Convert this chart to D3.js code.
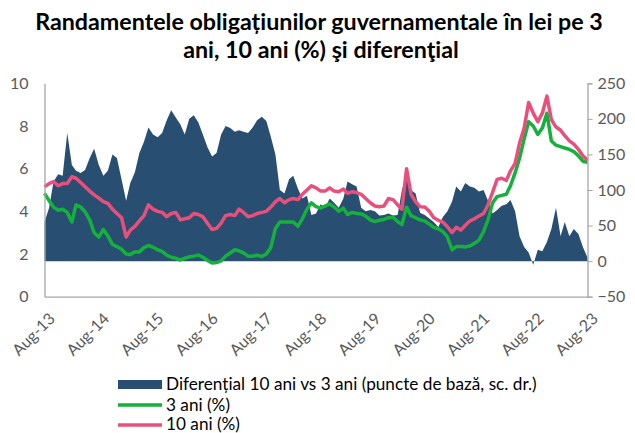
<!DOCTYPE html>
<html><head><meta charset="utf-8">
<script src="https://cdn.jsdelivr.net/npm/d3@7"></script>
<style>body{margin:0;background:#fff}svg{display:block;font-family:Lato,"Open Sans",sans-serif}</style>
</head><body><svg id="c" width="635" height="433"></svg>
<script>
const titleLines = ["Randamentele obligațiunilor guvernamentale în lei pe 3", "ani, 10 ani (%) şi diferenţial"];
const xLabels = ["Aug-13","Aug-14","Aug-15","Aug-16","Aug-17","Aug-18","Aug-19","Aug-20","Aug-21","Aug-22","Aug-23"];
const leftTicks = [0,2,4,6,8,10];
const rightTicks = [-50,0,50,100,150,200,250];
const legendLabels = ["Diferențial 10 ani vs 3 ani (puncte de bază, sc. dr.)", "3 ani (%)", "10 ani (%)"];
// monthly observations, Aug-2013 .. Aug-2023
const yield10 = [5.15,5.3,5.4,5.2,5.3,5.3,5.62,5.55,5.35,5.15,4.95,4.77,4.62,4.45,4.37,4.1,3.9,3.7,2.8,3.12,
3.3,3.55,3.8,4.3,4.1,4.0,3.95,3.75,3.9,3.95,3.6,3.65,3.7,3.9,3.85,3.75,3.44,3.15,3.2,3.45,
3.8,3.85,3.8,4.1,3.95,3.75,3.8,3.9,3.95,4.0,4.2,4.45,4.6,4.4,4.55,4.6,4.55,4.8,5.0,5.2,
5.1,4.95,4.95,5.1,4.95,4.92,5.05,4.84,4.92,4.88,4.8,4.6,4.4,4.25,4.22,4.25,4.6,4.55,4.3,4.1,
6.0,4.8,4.45,4.22,4.2,4.0,3.7,3.58,3.5,3.28,3.0,3.25,3.12,3.35,3.55,3.65,3.78,3.9,4.3,4.9,
5.5,5.55,5.45,5.9,6.25,7.2,7.9,9.1,8.6,8.2,8.6,9.4,8.3,7.95,7.8,7.55,7.3,7.15,6.9,6.6,6.4];
const yield3 = [4.84,4.5,4.2,4.05,4.1,3.95,3.5,4.3,4.2,3.98,3.6,3.0,2.8,3.15,2.85,2.45,2.35,2.22,2.0,1.98,
2.1,2.1,2.3,2.4,2.32,2.2,2.12,1.95,1.85,1.8,1.72,1.8,1.87,1.9,1.95,1.85,1.7,1.58,1.6,1.68,
1.9,2.05,2.2,2.15,2.05,1.9,1.9,1.95,1.88,2.0,2.3,3.2,3.5,3.5,3.5,3.5,3.3,3.65,4.1,4.4,
4.22,4.15,4.25,4.35,4.2,4.0,4.15,3.85,3.95,3.9,3.88,3.78,3.6,3.52,3.58,3.62,3.7,3.72,3.52,3.38,
4.2,3.8,3.7,3.6,3.55,3.4,3.25,3.18,3.05,2.8,2.2,2.35,2.35,2.33,2.38,2.5,2.65,3.05,3.6,4.4,
4.69,4.75,4.8,5.2,5.8,6.5,7.4,8.2,8.0,7.6,7.9,8.6,7.3,7.1,7.03,6.97,6.9,6.8,6.6,6.35,6.3];
const spread = [55,75,112,122,120,180,135,127,124,128,145,158,135,120,127,150,145,115,85,110,
125,152,168,188,178,174,180,198,212,202,192,178,200,205,195,178,160,147,152,178,
190,187,182,184,182,180,188,198,203,197,175,150,100,95,115,120,102,88,92,65,
67,80,75,88,82,75,88,112,108,105,75,70,72,70,64,65,67,64,65,100,
120,100,95,68,65,60,55,48,62,70,84,105,98,110,105,103,98,100,85,67,
72,78,80,86,70,35,20,12,-5,16,14,27,45,75,35,55,35,45,38,20,5];

const start = new Date(2013,7,1);
const dates = d3.range(yield10.length).map(i => d3.timeMonth.offset(start, i));

const svg = d3.select("#c");
const L = 44.5, R = 587.5, T = 83.3, B = 296.7;
const x = d3.scaleTime().domain([start, d3.timeMonth.offset(start,120)]).range([L, R]);
const yL = d3.scaleLinear().domain([0,10]).range([B, T]);
const yR = d3.scaleLinear().domain([-50,250]).range([B, T]);

const cBlue = "#284f72", cGreen = "#14b13c", cPink = "#ea4f7c", grey = "#595959", axisC = "#a6a6a6";

// title
const tt = svg.append("g").attr("font-weight","bold").attr("fill","#000").attr("text-anchor","middle");
const t1 = tt.append("text").attr("x",319).attr("y",30).attr("font-size",20).text(titleLines[0]);
const fs = 20*568/t1.node().getComputedTextLength();
t1.attr("font-size",fs);
tt.append("text").attr("x",321).attr("y",58).attr("font-size",fs).text(titleLines[1]);

// area
const data = dates.map((d,i)=>({d, s:spread[i], a:yield3[i], b:yield10[i]}));
svg.append("path").datum(data)
  .attr("fill", cBlue)
  .attr("d", d3.area().x(d=>x(d.d)).y0(yR(0)).y1(d=>yR(d.s)));

svg.append("path").datum(data).attr("fill","none").attr("stroke",cGreen).attr("stroke-width",3.5)
  .attr("stroke-linejoin","round")
  .attr("d", d3.line().x(d=>x(d.d)).y(d=>yL(d.a)));
svg.append("path").datum(data).attr("fill","none").attr("stroke",cPink).attr("stroke-width",3.5)
  .attr("stroke-linejoin","round")
  .attr("d", d3.line().x(d=>x(d.d)).y(d=>yL(d.b)));

// axes
const ax = svg.append("g").attr("transform",`translate(${L},0)`)
  .call(d3.axisLeft(yL).tickValues(leftTicks).tickSize(0).tickPadding(16).tickFormat(d3.format("d")));
const ar = svg.append("g").attr("transform",`translate(${R},0)`)
  .call(d3.axisRight(yR).tickValues(rightTicks).tickSize(5).tickPadding(5).tickFormat(d3.format("d")));
const xTickDates = xLabels.map((s,i)=>d3.timeYear.offset(start,i));
const ab = svg.append("g").attr("transform",`translate(0,${B})`)
  .call(d3.axisBottom(x).tickValues(xTickDates).tickSize(0).tickFormat((d,i)=>xLabels[i]));
ab.selectAll("text").attr("text-anchor","end").attr("dy",null).attr("y",0)
  .attr("transform","translate(11,23) rotate(-45)");
[ax,ar,ab].forEach(g=>{
  g.select(".domain").attr("stroke",axisC).attr("stroke-width",1.3);
  g.selectAll(".tick line").attr("stroke",axisC);
  g.selectAll("text").attr("fill",grey).attr("font-size",16).attr("font-family","Lato, sans-serif");
});

// legend
const lg = svg.append("g").attr("font-size",15).attr("fill","#000");
lg.append("rect").attr("x",118).attr("y",380).attr("width",44).attr("height",9).attr("fill",cBlue);
lg.append("line").attr("x1",118).attr("x2",162).attr("y1",405).attr("y2",405).attr("stroke",cGreen).attr("stroke-width",3.5);
lg.append("line").attr("x1",118).attr("x2",162).attr("y1",425).attr("y2",425).attr("stroke",cPink).attr("stroke-width",3.5);
const rowY = [390, 411, 430];
const lt = lg.selectAll("text.l").data(legendLabels).join("text").attr("class","l")
  .attr("x",166).attr("y",(d,i)=>rowY[i]).text(d=>d);
const lfs = 15*371/lt.nodes()[0].getComputedTextLength();
lt.attr("font-size",lfs);
</script></body></html>
